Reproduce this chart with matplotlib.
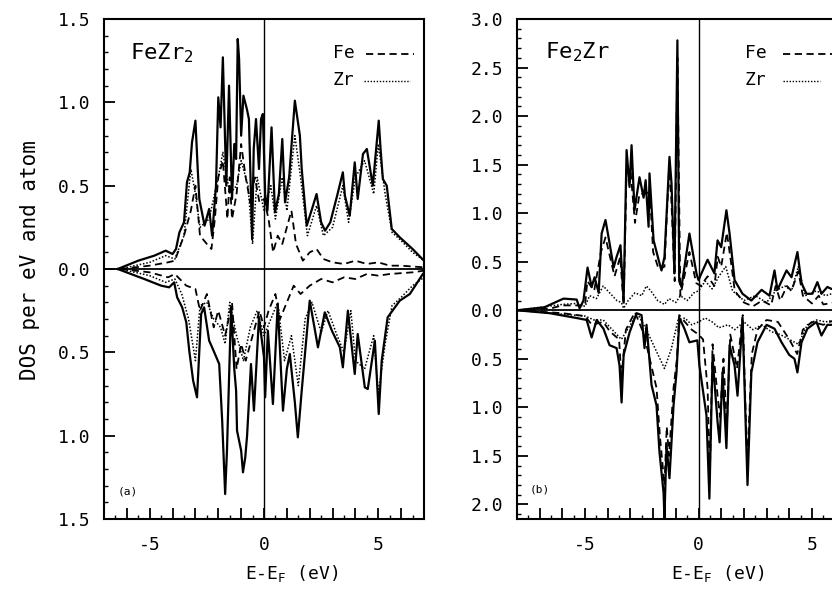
import matplotlib.pyplot as plt
from matplotlib.ticker import MultipleLocator, FuncFormatter

plt.rcParams['font.family'] = 'DejaVu Sans Mono'
plt.rcParams['mathtext.default'] = 'regular'

# ---- (a) FeZr2 : (E-EF, DOS) pairs, spin up / spin down ----
a_tot_up = [(-6.4, 0), (-5.5, 0.05), (-4.8, 0.08), (-4.3, 0.11), (-4.0, 0.09), (-3.85, 0.12),
            (-3.7, 0.22), (-3.5, 0.28), (-3.37, 0.52), (-3.25, 0.58), (-3.15, 0.76), (-3.0, 0.89),
            (-2.9, 0.60), (-2.83, 0.42), (-2.6, 0.26), (-2.4, 0.36), (-2.27, 0.20), (-2.1, 0.50),
            (-2.0, 1.03), (-1.9, 0.85), (-1.8, 1.27), (-1.65, 0.50), (-1.53, 1.10), (-1.4, 0.42),
            (-1.3, 0.75), (-1.22, 0.66), (-1.15, 1.38), (-1.09, 1.26), (-1.0, 0.80), (-0.9, 1.04),
            (-0.75, 0.96), (-0.66, 0.90), (-0.58, 0.50), (-0.52, 0.18), (-0.45, 0.72), (-0.35, 0.90),
            (-0.22, 0.60), (-0.13, 0.90), (-0.05, 0.93), (0.05, 0.45), (0.15, 0.35), (0.33, 0.85),
            (0.48, 0.34), (0.65, 0.45), (0.8, 0.78), (0.92, 0.40), (1.1, 0.55), (1.35, 1.01),
            (1.57, 0.80), (1.65, 0.60), (1.87, 0.26), (2.1, 0.36), (2.3, 0.45), (2.5, 0.28),
            (2.67, 0.23), (2.9, 0.28), (3.2, 0.44), (3.45, 0.58), (3.54, 0.44), (3.75, 0.32),
            (3.97, 0.64), (4.1, 0.42), (4.33, 0.69), (4.5, 0.72), (4.76, 0.50), (5.02, 0.89),
            (5.1, 0.72), (5.2, 0.54), (5.37, 0.50), (5.59, 0.24), (5.94, 0.19), (6.5, 0.12), (7.0, 0.05)]
a_fe_up = [(-6.3, 0), (-5.0, 0.02), (-4.2, 0.04), (-3.9, 0.05), (-3.5, 0.2), (-3.2, 0.35), (-3.0, 0.5),
           (-2.8, 0.2), (-2.5, 0.15), (-2.3, 0.12), (-2.15, 0.3), (-2.0, 0.55), (-1.8, 0.65), (-1.6, 0.3),
           (-1.5, 0.55), (-1.4, 0.3), (-1.2, 0.45), (-1.0, 0.75), (-0.8, 0.55), (-0.6, 0.4), (-0.4, 0.55),
           (-0.2, 0.4), (0.0, 0.42), (0.2, 0.3), (0.4, 0.1), (0.6, 0.2), (0.8, 0.15), (1.0, 0.25),
           (1.2, 0.35), (1.4, 0.15), (1.7, 0.05), (2.0, 0.1), (2.3, 0.12), (2.6, 0.06), (3.0, 0.04),
           (3.5, 0.03), (4.0, 0.05), (4.5, 0.03), (5.0, 0.04), (5.5, 0.02), (6.0, 0.02), (7.0, 0.01)]
a_zr_up = [(-6.3, 0), (-5.0, 0.04), (-4.3, 0.08), (-3.9, 0.06), (-3.5, 0.2), (-3.2, 0.6), (-3.0, 0.45),
           (-2.8, 0.25), (-2.4, 0.3), (-2.0, 0.55), (-1.8, 0.7), (-1.5, 0.45), (-1.2, 0.5), (-1.0, 0.65),
           (-0.7, 0.5), (-0.5, 0.15), (-0.3, 0.55), (0.0, 0.35), (0.3, 0.5), (0.5, 0.3), (0.8, 0.55),
           (1.0, 0.35), (1.35, 0.8), (1.6, 0.55), (1.9, 0.2), (2.3, 0.38), (2.6, 0.2), (3.0, 0.25),
           (3.45, 0.5), (3.7, 0.28), (4.0, 0.55), (4.4, 0.65), (4.8, 0.45), (5.0, 0.75), (5.3, 0.45),
           (5.6, 0.22), (6.0, 0.17), (6.5, 0.1), (7.0, 0.05)]
a_tot_dn = [(-6.4, 0), (-5.24, -0.06), (-4.5, -0.1), (-4.15, -0.11), (-3.93, -0.08), (-3.8, -0.17),
            (-3.58, -0.23), (-3.4, -0.32), (-3.27, -0.49), (-3.1, -0.67), (-2.93, -0.77), (-2.75, -0.27),
            (-2.62, -0.23), (-2.4, -0.43), (-2.27, -0.47), (-1.96, -0.57), (-1.83, -0.91), (-1.7, -1.35),
            (-1.62, -1.09), (-1.44, -0.23), (-1.3, -0.6), (-1.22, -0.73), (-1.18, -0.97), (-1.0, -1.09),
            (-0.92, -1.22), (-0.82, -1.13), (-0.74, -1.0), (-0.57, -0.57), (-0.44, -0.85), (-0.22, -0.29),
            (0.0, -0.53), (0.05, -0.77), (0.17, -0.37), (0.39, -0.81), (0.6, -0.21), (0.83, -0.85),
            (1.0, -0.6), (1.13, -0.51), (1.35, -0.8), (1.48, -1.01), (1.65, -0.73), (2.0, -0.19),
            (2.36, -0.47), (2.66, -0.26), (2.97, -0.37), (3.32, -0.47), (3.45, -0.59), (3.67, -0.25),
            (3.97, -0.63), (4.1, -0.39), (4.41, -0.71), (4.54, -0.72), (4.85, -0.43), (5.02, -0.87),
            (5.15, -0.55), (5.41, -0.29), (5.94, -0.19), (6.38, -0.15), (6.95, -0.03)]
a_fe_dn = [(-6.3, 0), (-5.0, -0.02), (-4.2, -0.05), (-3.9, -0.03), (-3.4, -0.1), (-3.0, -0.12),
           (-2.8, -0.25), (-2.5, -0.15), (-2.2, -0.35), (-2.0, -0.25), (-1.7, -0.4), (-1.4, -0.2),
           (-1.2, -0.6), (-1.0, -0.45), (-0.8, -0.55), (-0.5, -0.4), (-0.2, -0.25), (0.0, -0.35),
           (0.2, -0.25), (0.5, -0.15), (0.7, -0.3), (1.0, -0.2), (1.3, -0.1), (1.6, -0.15), (2.0, -0.1),
           (2.5, -0.06), (3.0, -0.08), (3.5, -0.05), (4.0, -0.06), (4.5, -0.03), (5.0, -0.04),
           (5.5, -0.03), (6.5, -0.02), (7.0, -0.01)]
a_zr_dn = [(-6.3, 0), (-5.0, -0.04), (-4.3, -0.08), (-3.9, -0.06), (-3.6, -0.15), (-3.3, -0.3),
           (-3.0, -0.55), (-2.8, -0.22), (-2.5, -0.2), (-2.2, -0.3), (-1.9, -0.35), (-1.7, -0.45),
           (-1.5, -0.2), (-1.2, -0.4), (-0.9, -0.55), (-0.6, -0.35), (-0.3, -0.25), (0.0, -0.4),
           (0.3, -0.3), (0.6, -0.2), (0.9, -0.55), (1.2, -0.4), (1.5, -0.7), (1.8, -0.3), (2.1, -0.2),
           (2.5, -0.38), (2.8, -0.25), (3.2, -0.4), (3.5, -0.5), (3.8, -0.25), (4.0, -0.55), (4.4, -0.6),
           (4.8, -0.4), (5.0, -0.75), (5.3, -0.45), (5.6, -0.22), (6.0, -0.17), (6.5, -0.1), (7.0, -0.05)]

# ---- (b) Fe2Zr ----
b_tot_up = [(-8.0, 0), (-6.8, 0.03), (-5.95, 0.12), (-5.37, 0.11), (-5.24, 0.02), (-5.07, 0.1),
            (-4.89, 0.44), (-4.71, 0.24), (-4.58, 0.34), (-4.4, 0.18), (-4.27, 0.79), (-4.1, 0.93),
            (-3.92, 0.69), (-3.74, 0.44), (-3.61, 0.55), (-3.44, 0.67), (-3.3, 0.1), (-3.17, 1.65),
            (-3.04, 1.27), (-2.95, 1.7), (-2.82, 1.03), (-2.6, 1.37), (-2.42, 1.16), (-2.33, 1.34),
            (-2.2, 0.86), (-2.16, 1.41), (-1.98, 0.72), (-1.76, 0.52), (-1.63, 0.41), (-1.5, 0.55),
            (-1.28, 1.58), (-1.19, 1.31), (-1.06, 0.38), (-0.93, 2.78), (-0.85, 0.3), (-0.75, 0.24),
            (-0.4, 0.79), (-0.09, 0.38), (0.0, 0.31), (0.13, 0.38), (0.4, 0.52), (0.7, 0.38), (0.84, 0.72),
            (1.0, 0.65), (1.23, 1.03), (1.37, 0.79), (1.59, 0.31), (1.94, 0.17), (2.33, 0.1), (2.78, 0.21),
            (3.13, 0.15), (3.35, 0.41), (3.48, 0.21), (3.88, 0.41), (4.1, 0.34), (4.36, 0.6), (4.54, 0.28),
            (4.76, 0.17), (5.02, 0.17), (5.24, 0.29), (5.42, 0.17), (5.68, 0.24), (5.86, 0.22),
            (6.5, 0.2), (7.5, 0.1), (8.0, 0.05)]
b_fe_up = [(-8.0, 0), (-6.5, 0.02), (-6.0, 0.05), (-5.4, 0.05), (-5.0, 0.05), (-4.9, 0.3), (-4.6, 0.2),
           (-4.3, 0.6), (-4.1, 0.75), (-3.9, 0.55), (-3.7, 0.35), (-3.45, 0.55), (-3.3, 0.05),
           (-3.17, 1.45), (-3.0, 1.45), (-2.8, 0.9), (-2.6, 1.2), (-2.3, 1.2), (-2.15, 1.25), (-2.0, 0.6),
           (-1.75, 0.42), (-1.5, 0.45), (-1.3, 1.45), (-1.2, 1.15), (-1.05, 0.3), (-0.93, 2.6),
           (-0.8, 0.15), (-0.4, 0.6), (-0.1, 0.28), (0.1, 0.25), (0.4, 0.35), (0.7, 0.25), (0.85, 0.55),
           (1.0, 0.45), (1.25, 0.8), (1.4, 0.55), (1.6, 0.2), (2.0, 0.08), (2.4, 0.04), (2.8, 0.1),
           (3.2, 0.05), (3.4, 0.25), (3.6, 0.1), (3.9, 0.25), (4.1, 0.2), (4.4, 0.4), (4.6, 0.15),
           (5.0, 0.07), (5.3, 0.15), (5.5, 0.06), (6.0, 0.08), (7.0, 0.05), (8.0, 0.02)]
b_zr_up = [(-8.0, 0), (-6.0, 0.06), (-5.4, 0.07), (-5.0, 0.04), (-4.8, 0.15), (-4.5, 0.12), (-4.2, 0.25),
           (-4.0, 0.2), (-3.6, 0.1), (-3.4, 0.08), (-3.3, 0.02), (-3.1, 0.1), (-2.8, 0.18), (-2.5, 0.15),
           (-2.3, 0.25), (-2.1, 0.2), (-1.8, 0.1), (-1.5, 0.06), (-1.3, 0.12), (-1.0, 0.08), (-0.8, 0.15),
           (-0.5, 0.1), (-0.2, 0.18), (0.0, 0.2), (0.3, 0.3), (0.6, 0.22), (0.9, 0.35), (1.2, 0.45),
           (1.5, 0.2), (2.0, 0.1), (2.5, 0.15), (3.0, 0.08), (3.4, 0.2), (3.8, 0.25), (4.1, 0.2),
           (4.4, 0.45), (4.7, 0.15), (5.2, 0.2), (5.6, 0.15), (6.0, 0.18), (7.0, 0.1), (8.0, 0.05)]
b_tot_dn = [(-8.0, 0), (-6.56, -0.03), (-5.37, -0.08), (-4.93, -0.1), (-4.71, -0.28), (-4.49, -0.1),
            (-4.19, -0.19), (-3.92, -0.36), (-3.61, -0.39), (-3.48, -0.57), (-3.39, -0.95), (-3.3, -0.46),
            (-3.04, -0.23), (-2.73, -0.03), (-2.51, -0.05), (-2.38, -0.39), (-2.29, -0.15), (-2.07, -0.77),
            (-1.85, -0.98), (-1.72, -1.46), (-1.54, -1.88), (-1.5, -2.14), (-1.41, -1.39), (-1.28, -1.73),
            (-1.1, -0.98), (-0.97, -0.64), (-0.84, -0.08), (-0.62, -0.19), (-0.4, -0.33), (-0.05, -0.31),
            (0.04, -0.57), (0.35, -1.08), (0.48, -1.94), (0.62, -0.49), (0.84, -1.15), (0.93, -1.36),
            (1.06, -0.64), (1.23, -1.42), (1.37, -0.36), (1.59, -0.57), (1.72, -0.88), (1.94, -0.08),
            (2.16, -1.8), (2.33, -0.64), (2.6, -0.33), (3.0, -0.15), (3.35, -0.19), (3.66, -0.33),
            (4.0, -0.46), (4.23, -0.5), (4.36, -0.64), (4.54, -0.33), (4.8, -0.19), (5.2, -0.12),
            (5.42, -0.26), (5.68, -0.15), (5.86, -0.15), (6.5, -0.12), (7.5, -0.06), (8.0, -0.03)]
b_fe_dn = [(-8.0, 0), (-6.0, -0.03), (-5.0, -0.06), (-4.7, -0.15), (-4.2, -0.12), (-3.9, -0.22),
           (-3.5, -0.3), (-3.4, -0.7), (-3.2, -0.2), (-2.8, -0.02), (-2.4, -0.25), (-2.1, -0.55),
           (-1.85, -0.8), (-1.7, -1.3), (-1.5, -1.8), (-1.4, -1.2), (-1.3, -1.5), (-1.1, -0.8),
           (-0.95, -0.5), (-0.85, -0.05), (-0.6, -0.12), (-0.3, -0.2), (0.0, -0.25), (0.2, -0.3),
           (0.4, -0.8), (0.5, -1.7), (0.62, -0.35), (0.85, -0.9), (0.95, -1.1), (1.1, -0.5), (1.25, -1.2),
           (1.4, -0.25), (1.7, -0.6), (1.95, -0.05), (2.15, -1.6), (2.35, -0.45), (2.6, -0.2),
           (3.0, -0.1), (3.5, -0.12), (4.0, -0.3), (4.35, -0.45), (4.6, -0.2), (5.0, -0.12),
           (5.5, -0.15), (6.0, -0.1), (7.0, -0.05), (8.0, -0.02)]
b_zr_dn = [(-8.0, 0), (-6.0, -0.04), (-5.0, -0.06), (-4.6, -0.1), (-4.2, -0.1), (-3.8, -0.2), (-3.4, -0.3),
           (-3.0, -0.15), (-2.7, -0.03), (-2.3, -0.2), (-2.0, -0.35), (-1.7, -0.5), (-1.5, -0.6),
           (-1.2, -0.4), (-0.9, -0.1), (-0.6, -0.08), (-0.3, -0.15), (0.0, -0.12), (0.3, -0.08),
           (0.6, -0.12), (0.9, -0.18), (1.3, -0.15), (1.6, -0.2), (2.0, -0.12), (2.4, -0.2), (2.8, -0.15),
           (3.2, -0.22), (3.6, -0.25), (4.0, -0.3), (4.4, -0.35), (4.8, -0.15), (5.2, -0.1), (5.6, -0.12),
           (6.0, -0.1), (7.0, -0.05), (8.0, -0.02)]

fig = plt.figure(figsize=(8.32, 5.89), dpi=100)
W, H = 832., 589.
ax_a = fig.add_axes([104 / W, 70 / H, 320 / W, 500 / H])
ax_b = fig.add_axes([517 / W, 70 / H, 363 / W, 500 / H])  # runs off the right edge like the scan

FE_LS = (0, (4, 2.5))
ZR_LS = (0, (1, 1.2))


def curve(ax, pts, **kw):
    x, y = zip(*pts)
    ax.plot(x, y, color='black', **kw)


def panel(ax, tot_up, fe_up, zr_up, tot_dn, fe_dn, zr_dn, xlim, ylim):
    for tot, fe, zr in ((tot_up, fe_up, zr_up), (tot_dn, fe_dn, zr_dn)):
        curve(ax, zr, lw=1.1, ls=ZR_LS)
        curve(ax, fe, lw=1.3, ls=FE_LS)
        curve(ax, tot, lw=1.6)
    ax.axhline(0, color='black', lw=1.3)
    ax.axvline(0, color='black', lw=1.0)
    ax.set_xlim(*xlim)
    ax.set_ylim(*ylim)
    ax.yaxis.set_major_locator(MultipleLocator(0.5))
    ax.yaxis.set_minor_locator(MultipleLocator(0.1))
    ax.yaxis.set_major_formatter(FuncFormatter(lambda v, p: f"{abs(v):.1f}"))
    ax.xaxis.set_major_locator(MultipleLocator(1))
    ax.xaxis.set_minor_locator(MultipleLocator(0.5))
    ax.xaxis.set_major_formatter(FuncFormatter(lambda v, p: f"{v:.0f}" if round(v) % 5 == 0 else ""))
    ax.tick_params(which='major', direction='in', length=8, width=1.3, labelsize=13, pad=10)
    ax.tick_params(axis='x', which='major', pad=12)
    ax.tick_params(which='minor', direction='in', length=3, width=1)
    for s in ax.spines.values():
        s.set_linewidth(1.5)


panel(ax_a, a_tot_up, a_fe_up, a_zr_up, a_tot_dn, a_fe_dn, a_zr_dn, (-7, 7), (-1.5, 1.5))
panel(ax_b, b_tot_up, b_fe_up, b_zr_up, b_tot_dn, b_fe_dn, b_zr_dn, (-8, 8), (-2.15, 3.0))

# compound names and legend text, in pixel positions of the scan
fig.text(130 / W, 1 - 53 / H, 'FeZr$_2$', fontsize=16, va='center')
fig.text(545 / W, 1 - 52 / H, 'Fe$_2$Zr', fontsize=16, va='center')


def key(x_txt, x_fe, x_zr):
    fig.text(x_txt / W, 1 - 53 / H, 'Fe', fontsize=13, va='center')
    fig.text(x_txt / W, 1 - 80 / H, 'Zr', fontsize=13, va='center')
    fig.add_artist(plt.Line2D([x_fe[0] / W, x_fe[1] / W], [1 - 54 / H] * 2, color='black', lw=1.3, ls=FE_LS))
    fig.add_artist(plt.Line2D([x_zr[0] / W, x_zr[1] / W], [1 - 81 / H] * 2, color='black', lw=1.0, ls=ZR_LS))


key(333, (366, 414), (364, 410))
key(745, (783, 834), (783, 820))

fig.text(118 / W, 1 - 492 / H, '(a)', fontsize=8, va='center')
fig.text(530 / W, 1 - 490 / H, '(b)', fontsize=8, va='center')

fig.text(30 / W, 1 - 260 / H, 'DOS per eV and atom', fontsize=15, rotation=90, ha='center', va='center')
fig.text(292 / W, 1 - 573 / H, 'E-E$_F$ (eV)', fontsize=13, ha='center', va='center')
fig.text(718 / W, 1 - 573 / H, 'E-E$_F$ (eV)', fontsize=13, ha='center', va='center')

fig.savefig('out.png', dpi=100)
